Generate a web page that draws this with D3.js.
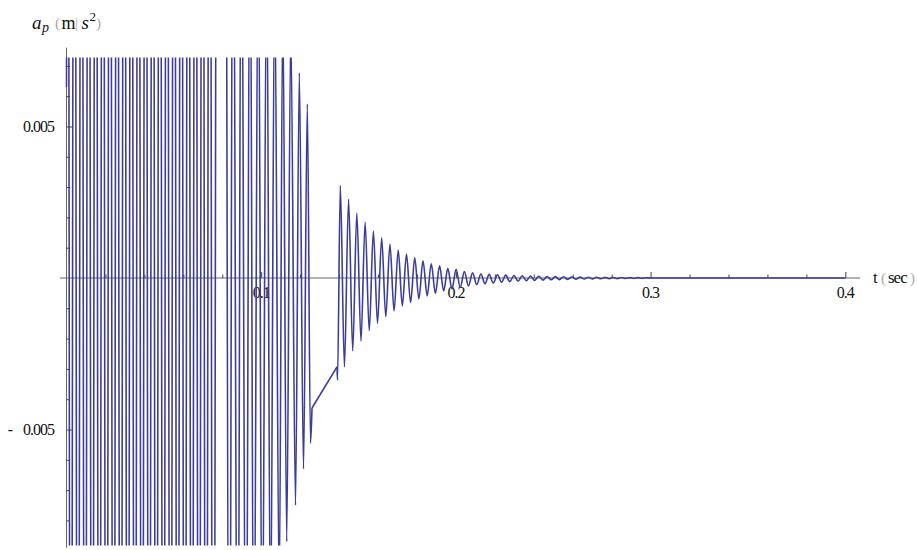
<!DOCTYPE html>
<html lang="en">
<head>
  <meta charset="UTF-8">
  <title>a_p (m/s^2) vs t (sec)</title>
  <style>
    body { margin: 0; background: #fff; }
    .lbl { font-family: "Liberation Serif", "DejaVu Serif", serif; font-size: 16px; letter-spacing: -1px; fill: #111; }
    .axis-line { stroke: #666; stroke-width: 1; }
    .axis .tick line { stroke: #444; }
    .trace { fill: none; stroke: #3d3d99; stroke-width: 1.6; stroke-linejoin: round; }
    .paren { fill: #aaa; }
  </style>
</head>
<body>
  <script src="https://cdnjs.cloudflare.com/ajax/libs/d3/7.8.5/d3.min.js"></script>
  <script>
    const SVGWIDTH = 917;
    const SVGHEIGHT = 550;

    // tick positions and labels
    const xMajorTicks = [0.1, 0.2, 0.3, 0.4];
    const xMajorLabels = ['0.1', '0.2', '0.3', '0.4'];
    const xMinorTicks = [0.02, 0.04, 0.06, 0.08, 0.12, 0.14, 0.16, 0.18, 0.22, 0.24, 0.26, 0.28, 0.32, 0.34, 0.36, 0.38];
    const yMajorTicks = [-0.005, 0.005];
    const yMajorLabels = ['0.005', '0.005'];
    const yMinorTicks = [-0.008, -0.007, -0.006, -0.004, -0.003, -0.002, -0.001, 0.001, 0.002, 0.003, 0.004, 0.006, 0.007];

    // signal: times (s) and accelerations (m/s^2) at turning points
    // values of +-0.03 are off the scale (clipped in the plot)
    const onsetT = [0, 0.00056];
    const onsetA = [0.0063, 0.03];

    const burstT = [0.00220, 0.00403, 0.00586, 0.00768, 0.00951, 0.01134, 0.01317, 0.01500, 0.01683, 0.01866,
                    0.02048, 0.02231, 0.02414, 0.02597, 0.02780, 0.02963, 0.03145, 0.03328, 0.03511, 0.03694,
                    0.03877, 0.04060, 0.04243, 0.04425, 0.04608, 0.04791, 0.04974, 0.05157, 0.05340, 0.05523,
                    0.05705, 0.05888, 0.06071, 0.06254, 0.06437, 0.06620, 0.06802, 0.06985, 0.07168, 0.07351,
                    0.07534, 0.07755, 0.08115];
    const burstA = [-0.03, 0.03, -0.03, 0.03, -0.03, 0.03, -0.03, 0.03, -0.03, 0.03,
                    -0.03, 0.03, -0.03, 0.03, -0.03, 0.03, -0.03, 0.03, -0.03, 0.03,
                    -0.03, 0.03, -0.03, 0.03, -0.03, 0.03, -0.03, 0.03, -0.03, 0.03,
                    -0.03, 0.03, -0.03, 0.03, -0.03, 0.03, -0.03, 0.03, -0.03, 0.03,
                    -0.03, 0.03, 0.03];

    const ringT = [0.08362, 0.08552, 0.08793, 0.08978, 0.09219, 0.09425, 0.09620, 0.09851, 0.10051, 0.10282,
                   0.10478, 0.10693, 0.10925, 0.11109, 0.11310, 0.11520, 0.11762, 0.11957, 0.12173, 0.12368,
                   0.12532, 0.12609];
    const ringA = [-0.020, 0.0165, -0.018, 0.015, -0.0165, 0.0135, -0.015, 0.012, -0.0135, 0.011,
                   -0.012, 0.010, -0.0105, 0.0090, -0.0087, 0.0082, -0.0075, 0.00677, -0.0063, 0.00574,
                   -0.00545, -0.00429];

    // straight jump where the curve has a hole
    const jumpT = [0.12609, 0.13893];
    const jumpA = [-0.00429, -0.00293];

    const decayT = [0.13893, 0.13919,
                    0.14063, 0.14275, 0.14488, 0.14700, 0.14912, 0.15125, 0.15337, 0.15549, 0.15762, 0.15974,
                    0.16187, 0.16399, 0.16611, 0.16824, 0.17036, 0.17248, 0.17461, 0.17673, 0.17886, 0.18098,
                    0.18310, 0.18523, 0.18735, 0.18947, 0.19160, 0.19372, 0.19584, 0.19797, 0.20009, 0.20222,
                    0.20434, 0.20646, 0.20859, 0.21071, 0.21283, 0.21496, 0.21708, 0.21920, 0.22133, 0.22345,
                    0.22558, 0.22770, 0.22982, 0.23195, 0.23407, 0.23619, 0.23832, 0.24044, 0.24256, 0.24469,
                    0.24681, 0.24894, 0.25106, 0.25318, 0.25531, 0.25743, 0.25955, 0.26168, 0.26380, 0.26592,
                    0.26805, 0.27017, 0.27230, 0.27442, 0.27654, 0.27867, 0.28079, 0.28291, 0.28504, 0.28716,
                    0.28929, 0.29141, 0.29353, 0.29566, 0.29778,
                    0.30000, 0.40000];
    const decayA = [-0.00293, -0.00337,
                    0.00305, -0.00293, 0.00260, -0.00240, 0.00214, -0.00208, 0.00184, -0.00174, 0.00155, -0.00150,
                    0.00133, -0.00128, 0.00112, -0.00109, 0.00092, -0.00092, 0.00079, -0.00081, 0.00067, -0.00069,
                    0.00057, -0.00059, 0.00047, -0.00051, 0.00040, -0.00043, 0.00032, -0.00036, 0.00029, -0.00031,
                    0.00021, -0.00026, 0.00017, -0.00022, 0.00013, -0.00019, 0.00012, -0.000165, 0.000105, -0.00014,
                    0.000095, -0.00012, 0.000085, -0.000105, 0.000075, -0.00009, 0.000065, -0.00008, 0.00006, -0.00007,
                    0.000052, -0.00006, 0.000045, -0.000052, 0.00004, -0.000045, 0.000035, -0.00004, 0.00003, -0.000035,
                    0.000026, -0.00003, 0.000023, -0.000026, 0.00002, -0.000023, 0.000017, -0.00002, 0.000015, -0.000017,
                    0.000013, -0.000015, 0.000012, -0.000013, 0.00001,
                    0, 0];

    const xScale = d3.scaleLinear().domain([0, 0.4]).range([66.5, 845.3]);
    const yScale = d3.scaleLinear().domain([-0.0089, 0.0076]).range([547.7, 47.7]);

    const svg = d3.select('body')
      .append('svg')
      .attr('width', SVGWIDTH)
      .attr('height', SVGHEIGHT)
      .attr('viewBox', `0 0 ${SVGWIDTH} ${SVGHEIGHT}`);

    // plot range clip (Mathematica cuts the curve at the plot range)
    svg.append('defs').append('clipPath').attr('id', 'plotClip')
      .append('rect')
      .attr('x', 60).attr('y', 57.5)
      .attr('width', 800).attr('height', 488);

    // axis lines
    svg.append('line').attr('class', 'axis-line')
      .attr('x1', 60).attr('x2', 860)
      .attr('y1', yScale(0)).attr('y2', yScale(0));
    svg.append('line').attr('class', 'axis-line')
      .attr('x1', xScale(0)).attr('x2', xScale(0))
      .attr('y1', yScale.range()[1]).attr('y2', yScale.range()[0]);

    // x ticks point up, y ticks point right
    const xMinor = svg.append('g').attr('class', 'axis')
      .attr('transform', `translate(0,${yScale(0)})`)
      .call(d3.axisTop(xScale).tickValues(xMinorTicks).tickSize(3.5).tickFormat(''));
    const xMajor = svg.append('g').attr('class', 'axis')
      .attr('transform', `translate(0,${yScale(0)})`)
      .call(d3.axisTop(xScale).tickValues(xMajorTicks).tickSize(6).tickFormat(''));
    const yMinor = svg.append('g').attr('class', 'axis')
      .attr('transform', `translate(${xScale(0)},0)`)
      .call(d3.axisRight(yScale).tickValues(yMinorTicks).tickSize(3.5).tickFormat(''));
    const yMajor = svg.append('g').attr('class', 'axis')
      .attr('transform', `translate(${xScale(0)},0)`)
      .call(d3.axisRight(yScale).tickValues(yMajorTicks).tickSize(6).tickFormat(''));
    [xMinor, xMajor, yMinor, yMajor].forEach(g => g.select('.domain').remove());

    // tick labels
    svg.selectAll('.xlbl')
      .data(d3.zip(xMajorTicks, xMajorLabels))
      .enter()
      .append('text')
      .attr('class', 'lbl xlbl')
      .attr('x', d => xScale(d[0]))
      .attr('y', yScale(0) + 20)
      .attr('text-anchor', 'middle')
      .text(d => d[1]);

    const ylbl = svg.selectAll('.ylbl')
      .data(d3.zip(yMajorTicks, yMajorLabels))
      .enter()
      .append('text')
      .attr('class', 'lbl ylbl')
      .attr('x', 54)
      .attr('y', d => yScale(d[0]) + 5.5)
      .attr('text-anchor', 'end');
    ylbl.filter(d => d[0] < 0).append('tspan').text('-');
    ylbl.append('tspan').attr('dx', d => d[0] < 0 ? 11 : 0).text(d => d[1]);

    // axis titles
    const serif = '"Liberation Serif", "DejaVu Serif", serif';
    const yt = svg.append('g').attr('font-family', serif).attr('fill', '#111');
    yt.append('text').attr('x', 32).attr('y', 28.5).attr('font-size', 19).attr('font-style', 'italic').text('a');
    yt.append('text').attr('x', 42).attr('y', 32).attr('font-size', 14).attr('font-style', 'italic').text('p');
    yt.append('text').attr('class', 'paren').attr('x', 55).attr('y', 28).attr('font-size', 15).text('(');
    yt.append('text').attr('x', 61.5).attr('y', 28.5).attr('font-size', 18).text('m');
    yt.append('text').attr('class', 'paren').attr('x', 75).attr('y', 28).attr('font-size', 15).text('|');
    yt.append('text').attr('x', 81.5).attr('y', 28.5).attr('font-size', 19).attr('font-style', 'italic').text('s');
    yt.append('text').attr('x', 89.5).attr('y', 21).attr('font-size', 13).text('2');
    yt.append('text').attr('class', 'paren').attr('x', 96).attr('y', 28).attr('font-size', 15).text(')');

    const xt = svg.append('g').attr('font-family', serif).attr('fill', '#111').attr('font-size', 17);
    xt.append('text').attr('x', 873).attr('y', 283).text('t');
    xt.append('text').attr('class', 'paren').attr('x', 881).attr('y', 283).attr('font-size', 15).text('(');
    xt.append('text').attr('x', 888).attr('y', 283).attr('letter-spacing', '-1px').text('sec');
    xt.append('text').attr('class', 'paren').attr('x', 910).attr('y', 283).attr('font-size', 15).text(')');

    // the trace
    const smooth = d3.line()
      .x(d => xScale(d[0]))
      .y(d => yScale(d[1]))
      .curve(d3.curveMonotoneX);
    const straight = d3.line()
      .x(d => xScale(d[0]))
      .y(d => yScale(d[1]));

    const firstPart = d3.zip(onsetT, onsetA)
      .concat(d3.zip(burstT, burstA))
      .concat(d3.zip(ringT, ringA));

    const plot = svg.append('g').attr('clip-path', 'url(#plotClip)');
    plot.append('path').attr('class', 'trace').attr('d', smooth(firstPart));
    plot.append('path').attr('class', 'trace').attr('d', straight(d3.zip(jumpT, jumpA)));
    plot.append('path').attr('class', 'trace').attr('d', smooth(d3.zip(decayT, decayA)));
  </script>
</body>
</html>
